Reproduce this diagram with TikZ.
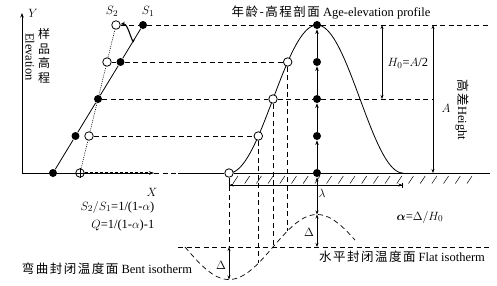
\documentclass[tikz,border=0pt]{standalone}
\usepackage{amsmath}
\usepackage{fontspec}
\setmainfont{Liberation Serif}
\newfontfamily\cjk[LetterSpace=12]{Noto Sans CJK SC}
\usetikzlibrary{arrows.meta,calc}

\tikzset{
  fdot/.style={circle, fill=black, inner sep=0pt, minimum size=8pt},
  odot/.style={circle, draw, fill=white, inner sep=0pt, minimum size=8.5pt, line width=0.8pt},
  dashline/.style={dash pattern=on 5pt off 3.5pt, line width=0.7pt},
  dotline/.style={dash pattern=on 1pt off 1.2pt, line width=0.6pt},
  tip/.style={-{Stealth[length=4.5pt,width=3.5pt]}},
  dtip/.style={{Stealth[length=4pt,width=3pt]}-{Stealth[length=4pt,width=3pt]}},
}

\begin{document}
\begin{tikzpicture}[x=1pt, y=-1pt, line width=0.8pt, font=\fontsize{12.5}{14}\selectfont]
    \useasboundingbox (0,0) rectangle (497,285);

    % Axes
    \coordinate (O) at (22,173);
    \coordinate (Ytop) at (22,13);
    \coordinate (Xend) at (154,173);
    \draw[tip] (O) -- (Ytop);
    \node at (33,13) {$Y$};
    \node at (152,192) {$X$};
    \node[rotate=-90] at (30,57) {Elevation};
    \node[align=center, inner sep=0pt, font=\cjk\fontsize{12}{14.5}\selectfont] at (44,56) {样\\品\\高\\程};

    % Profile curve and bent isotherm
    \draw plot[domain=229:317, samples=60] (\x, {173-74*(1+cos((\x-317)/88*180))});
    \draw plot[domain=317:403, samples=60] (\x, {173-74*(1+cos((\x-317)/86*180))});
    \draw[dashline] plot[domain=185:355, samples=70] (\x, {247-32.5*cos((\x-317)/88*180)});

    % Sample lines S1 and S2
    \node[fdot] (a5) at (53,173) {};
    \node[fdot] (a1) at (143,25) {};
    \node[fdot] (a4) at ($(a5)!0.25!(a1)$) {};
    \node[fdot] (a3) at ($(a5)!0.5!(a1)$) {};
    \node[fdot] (a2) at ($(a5)!0.75!(a1)$) {};
    \node[circle, draw, inner sep=0pt, minimum size=8.5pt] (b5) at (80,173) {};
    \node[odot] (b1) at (116,25) {};
    \node[odot] (b4) at ($(b5)!0.25!(b1)$) {};
    \node[odot] (b2) at ($(b5)!0.75!(b1)$) {};
    \draw (a5) -- (a4) -- (a3) -- (a2) -- (a1);
    \draw[dotline] (b5) -- (b4) -- (a3) -- (b2) -- (b1);
    \draw[line width=0.5pt] (b5.west) -- (b5.east) (b5.south) -- (b5.north);
    \coordinate (rot) at ($(a5)!0.9!(a1)$);
    \draw[tip, line width=1.1pt] (rot) to[out=-100, in=10] (b1);
    \node at (112,11) {$S_2$};
    \node at (148,11) {$S_1$};

    % Points on the profile
    \node[fdot] (p1) at (317,25) {};
    \node[fdot] (p2) at (317,62) {};
    \node[fdot] (p3) at (317,99) {};
    \node[fdot] (p4) at (317,136) {};
    \node[fdot] (p5) at (317,173) {};
    \node[odot] (c2) at (287.7,62) {};
    \node[odot] (c3) at (273,99) {};
    \node[odot] (c4) at (258.3,136) {};
    \node[odot] (c5) at (229,173) {};
    \draw[tip] (p5) -- (p4);
    \draw[tip] (p4) -- (p3);
    \draw[tip] (p3) -- (p2);
    \draw[tip] (p2) -- (p1);

    % Elevation levels
    \coordinate (e1) at (490,25);
    \coordinate (h3) at (433,99);
    \coordinate (g0) at (178,173);
    \coordinate (gE) at (490,173);
    \draw[dashline] (b1) -- (a1) -- (p1) -- (e1);
    \draw[dashline] (b2) -- (a2) -- (c2);
    \draw[dashline] (a3) -- (c3) -- (p3) -- (h3);
    \draw[dashline] (b4) -- (c4);
    \draw (O) -- (a5) -- (b5);
    \draw[-{Stealth[length=5pt,width=3.5pt]}, line width=0.5pt] (b5) -- (Xend);
    \draw[dash pattern=on 3.5pt off 1.5pt, line width=1.1pt, shorten >=4pt] (b5) -- (Xend);
    \draw[dashline] (Xend) -- (g0);
    \draw (g0) -- (c5) -- (p5) -- (gE);
    \foreach \i in {0,...,20}
        \draw[line width=0.5pt] ({233+\i*11.7},183.5) -- ++(5,-7.5);

    % Isotherms
    \coordinate (fL) at (178,247);
    \coordinate (fR) at (490,247);
    \coordinate (f1) at (317,247);
    \coordinate (f5) at (229,247);
    \coordinate (k1) at (317,214.5);
    \coordinate (k2) at (287.7,230.75);
    \coordinate (k3) at (273,247);
    \coordinate (k4) at (258.3,263.25);
    \coordinate (k5) at (229,279.5);
    \draw[dashline] (fL) -- (fR);
    \draw[dashline, line width=0.6pt] (c5) -- (f5);
    \draw[dashline, line width=0.6pt] (c4) -- (k4);
    \draw[dashline, line width=0.6pt] (c3) -- (k3);
    \draw[dashline, line width=0.6pt] (c2) -- (k2);
    \draw[dtip] (p5) -- (k1);
    \draw[dtip] (k1) -- (f1);
    \draw[dtip] (f5) -- (k5);
    \node at (309,232) {$\Delta$};
    \node at (221,265) {$\Delta$};

    % Wavelength, relief
    \coordinate (lamL) at (229,185);
    \coordinate (lamR) at (403,185);
    \draw[{Bar[width=5pt]Stealth[length=4pt,width=3pt]}-{Stealth[length=4pt,width=3pt]Bar[width=5pt]}, line width=0.6pt] (lamL) -- (lamR);
    \node at (322,193) {$\lambda$};
    \coordinate (hA) at (382,25);
    \coordinate (hB) at (382,99);
    \draw[dtip] (hA) -- (hB);
    \node[anchor=west] at (384,63) {$H_0$=$A$/2};
    \coordinate (rA) at (433,25);
    \coordinate (rB) at (433,173);
    \draw[dtip] (rA) -- (rB);
    \node at (446,108) {$A$};
    \node[rotate=-90] at (462,110) {{\cjk 高差}Height};

    % Texts
    \node at (331,13) {{\cjk 年龄-高程剖面} Age-elevation profile};
    \node[anchor=east] at (158,207) {$S_2/S_1$=1/(1-$\alpha$)};
    \node[anchor=east] at (158,225) {$Q$=1/(1-$\alpha$)-1};
    \node at (420,217) {$\boldsymbol{\alpha}$=$\Delta/H_0$};
    \node at (402,257) {{\cjk 水平封闭温度面} Flat isotherm};
    \node at (107,269) {{\cjk 弯曲封闭温度面} Bent isotherm};
\end{tikzpicture}
\end{document}
